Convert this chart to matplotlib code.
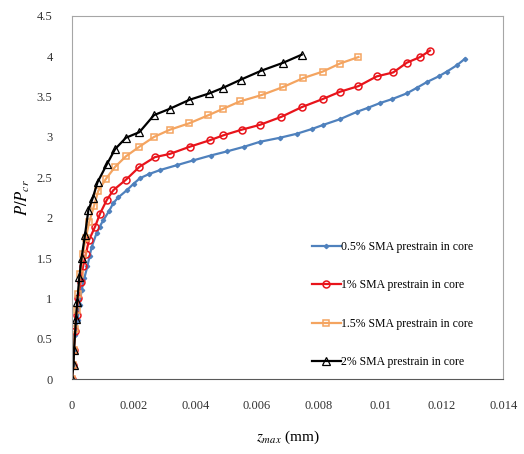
import numpy as np
import matplotlib
matplotlib.use("Agg")
import matplotlib.pyplot as plt

plt.rcParams['font.family'] = ['Liberation Serif', 'DejaVu Serif']
plt.rcParams['mathtext.fontset'] = 'stix'

# 0.5% prestrain (blue)
x_05 = [0, 0.00002, 0.00005, 0.0001, 0.00018, 0.00025, 0.00031, 0.0004, 0.0005, 0.00057,
        0.00064, 0.0008, 0.0009, 0.00102, 0.0012, 0.00134, 0.0015, 0.00178, 0.002, 0.00221,
        0.0025, 0.00286, 0.0034, 0.00394, 0.0045, 0.00502, 0.0056, 0.0061, 0.00675, 0.0073,
        0.0078, 0.00816, 0.0087, 0.00924, 0.0096, 0.0100, 0.0104, 0.01087, 0.0112, 0.01152,
        0.0119, 0.01217, 0.0125, 0.01276]
y_05 = [0, 0.18, 0.36, 0.55, 0.73, 0.92, 1.10, 1.25, 1.40, 1.52,
        1.64, 1.81, 1.89, 1.97, 2.08, 2.18, 2.25, 2.34, 2.42, 2.49,
        2.54, 2.59, 2.65, 2.71, 2.77, 2.82, 2.88, 2.94, 2.99, 3.04,
        3.10, 3.15, 3.22, 3.31, 3.36, 3.42, 3.47, 3.54, 3.61, 3.68,
        3.75, 3.81, 3.89, 3.97]

# 1% prestrain (red)
x_1 = [0, 0.00003, 0.00006, 0.0001, 0.00015, 0.0002, 0.00028, 0.00036, 0.00045, 0.00055,
       0.00075, 0.00091, 0.00113, 0.00134, 0.00175, 0.00219, 0.00269, 0.00318, 0.00383, 0.00448,
       0.00491, 0.00551, 0.0061, 0.0068, 0.00746, 0.00814, 0.0087, 0.0093, 0.00989, 0.01043,
       0.01087, 0.0113, 0.01162]
y_1 = [0, 0.18, 0.36, 0.6, 0.8, 1.0, 1.2, 1.4, 1.55, 1.72,
       1.89, 2.05, 2.22, 2.34, 2.47, 2.63, 2.75, 2.79, 2.88, 2.96,
       3.02, 3.09, 3.15, 3.25, 3.37, 3.47, 3.56, 3.63, 3.75, 3.80,
       3.92, 3.99, 4.07]

# 1.5% prestrain (orange)
x_15 = [0, 0.00003, 0.00006, 0.0001, 0.00015, 0.0002, 0.00027, 0.00035, 0.00045, 0.00056,
        0.00071, 0.00085, 0.0011, 0.0014, 0.00175, 0.00219, 0.00266, 0.00318, 0.00381, 0.00443,
        0.00491, 0.00545, 0.00616, 0.00686, 0.00751, 0.00814, 0.0087, 0.0093]
y_15 = [0, 0.18, 0.36, 0.62, 0.85, 1.05, 1.3, 1.55, 1.75, 1.95,
        2.14, 2.33, 2.48, 2.63, 2.76, 2.88, 3.0, 3.09, 3.17, 3.27,
        3.35, 3.44, 3.52, 3.62, 3.73, 3.81, 3.91, 3.99]

# 2% prestrain (black)
x_2 = [0, 0.00005, 0.000065, 0.00013, 0.00017, 0.00024, 0.00031, 0.00042, 0.00053, 0.00067,
       0.00083, 0.00113, 0.0014, 0.00175, 0.00219, 0.00266, 0.00318, 0.00381, 0.00446, 0.00491,
       0.00548, 0.00614, 0.00686, 0.00746]
y_2 = [0, 0.18, 0.36, 0.75, 0.96, 1.27, 1.50, 1.78, 2.09, 2.24,
       2.44, 2.66, 2.85, 2.99, 3.06, 3.27, 3.35, 3.46, 3.54, 3.61,
       3.71, 3.82, 3.92, 4.02]

labels = ['0.5% SMA prestrain in core', '1% SMA prestrain in core',
          '1.5% SMA prestrain in core', '2% SMA prestrain in core']

fig = plt.figure(figsize=(5.24, 4.54), dpi=100)
ax = fig.add_axes([0.1374, 0.165, 0.823, 0.80])

ax.plot(x_05, y_05, color='#4f81bd', lw=1.6, marker='D', markersize=2.2,
        markerfacecolor='#4f81bd', markeredgecolor='#4f81bd', label=labels[0])
ax.plot(x_1, y_1, color='#e8141b', lw=1.6, marker='o', markersize=5,
        markerfacecolor='none', markeredgecolor='#e8141b', markeredgewidth=1.1, label=labels[1])
ax.plot(x_15, y_15, color='#f4a460', lw=1.6, marker='s', markersize=4.5,
        markerfacecolor='none', markeredgecolor='#f4a460', markeredgewidth=1.1, label=labels[2])
ax.plot(x_2, y_2, color='black', lw=1.6, marker='^', markersize=5.5,
        markerfacecolor='none', markeredgecolor='black', markeredgewidth=0.9, label=labels[3])

ax.set_xlim(0, 0.014)
ax.set_ylim(0, 4.5)
ax.set_xticks(np.arange(0, 0.0141, 0.002))
ax.set_xticklabels(['0', '0.002', '0.004', '0.006', '0.008', '0.01', '0.012', '0.014'])
ax.set_yticks(np.arange(0, 4.51, 0.5))
ax.set_yticklabels(['0', '0.5', '1', '1.5', '2', '2.5', '3', '3.5', '4', '4.5'])
ax.tick_params(axis='x', length=0, labelsize=9, pad=15, colors='#333333')
ax.tick_params(axis='y', length=0, labelsize=9, pad=14, colors='#333333')

for s in ['top', 'right', 'left']:
    ax.spines[s].set_color('#a6a6a6')
ax.spines['bottom'].set_color('#595959')

ax.set_xlabel(r'$z_{max}$ (mm)', fontsize=11, labelpad=12)
ax.set_ylabel(r'$P/P_{cr}$', fontsize=12)
ax.yaxis.set_label_coords(-0.093, 0.5)

ax.legend(loc='lower right', bbox_to_anchor=(0.955, 0.0), frameon=False, fontsize=8.5,
          handlelength=2.4, handletextpad=0.05, labelspacing=2.25, borderaxespad=0.5)

fig.savefig('out.png', dpi=100)
